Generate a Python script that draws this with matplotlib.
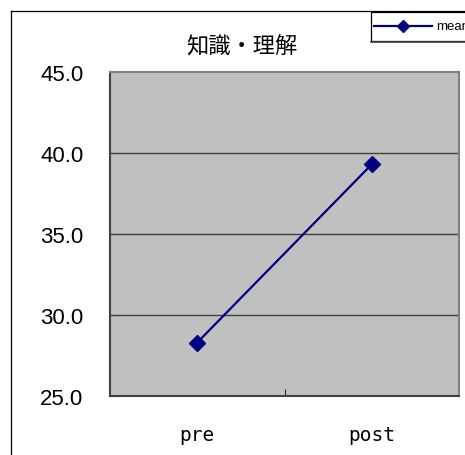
import matplotlib
matplotlib.use("Agg")
import matplotlib.pyplot as plt
from matplotlib.lines import Line2D
from matplotlib.patches import Rectangle

# 知識・理解 の平均値（事前・事後）
phases = ["pre", "post"]
mean_scores = [28.3, 39.3]
y_ticks = [25.0, 30.0, 35.0, 40.0, 45.0]

W, H = 465, 456
fig = plt.figure(figsize=(W / 100, H / 100), dpi=100)
fig.patch.set_facecolor("white")

# 外枠（左と上だけ見える）
fig.add_artist(Line2D([11 / W, 11 / W], [0, 1 - 12 / H], color="black", lw=0.9))
fig.add_artist(Line2D([11 / W, 1], [1 - 12 / H, 1 - 12 / H], color="black", lw=0.9))

ax = fig.add_axes([110 / W, 59 / H, 349 / W, 324 / H])
ax.set_facecolor("#c0c0c0")

x = list(range(len(phases)))
line, = ax.plot(x, mean_scores, color="#000080", lw=1.6, marker="D",
                markersize=8, label="mean", zorder=3)

ax.set_xlim(-0.5, len(phases) - 0.5)
ax.set_ylim(y_ticks[0], y_ticks[-1])
ax.set_yticks(y_ticks)
ax.set_yticklabels([f"{v:.1f}" for v in y_ticks], fontsize=16,
                   family="Liberation Sans")
ax.set_xticks(x)
ax.set_xticklabels(phases, fontsize=14, family="DejaVu Sans Mono")
ax.set_xticks([0.5], minor=True)

ax.tick_params(axis="x", which="major", length=0, pad=21)
ax.tick_params(axis="x", which="minor", direction="in", length=5, color="black")
ax.tick_params(axis="y", direction="in", length=6, color="#404040", pad=19)

for v in y_ticks[1:-1]:
    ax.axhline(v, color="#404040", lw=1.0, zorder=1)

for side in ["top", "right"]:
    ax.spines[side].set_color("#808080")
    ax.spines[side].set_linewidth(1.5)
ax.spines["left"].set_color("#404040")
ax.spines["left"].set_linewidth(1.5)
ax.spines["bottom"].set_color("#404040")
ax.spines["bottom"].set_linewidth(1.5)

fig.text(242 / W, 1 - 46 / H, "知識・理解", ha="center", va="center",
         fontsize=16, family=["Noto Sans CJK JP", "DejaVu Sans"])

# 凡例（右上、図の端で切れる）
fig.add_artist(Rectangle((371 / W, 1 - 42 / H), 110 / W, 29 / H,
                         transform=fig.transFigure, facecolor="white",
                         edgecolor="black", lw=0.9))
fig.add_artist(Line2D([371 / W, 1], [1 - 42.5 / H, 1 - 42.5 / H],
                      color="#404040", lw=1.2))
fig.add_artist(Line2D([374 / W, 432 / W], [1 - 27 / H, 1 - 27 / H],
                      color=line.get_color(), lw=1.6))
fig.add_artist(Line2D([403 / W], [1 - 27 / H], color=line.get_color(),
                      marker="D", markersize=6, lw=0))
fig.text(436 / W, 1 - 27 / H, line.get_label(), ha="left", va="center",
         fontsize=9.5, family="Liberation Sans")

fig.savefig("out.png", dpi=100)
